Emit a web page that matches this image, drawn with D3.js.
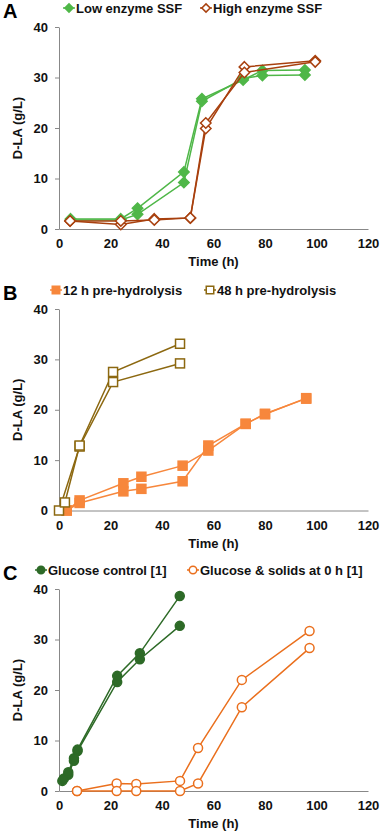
<!DOCTYPE html>
<html>
<head>
<meta charset="utf-8">
<script src="https://cdn.jsdelivr.net/npm/d3@7"></script>
<style>
  body { margin: 0; background: #fff; }
  text { font-family: "Liberation Sans", Arial, sans-serif; font-weight: bold; }
</style>
</head>
<body>
<div id="chart"></div>
<script>
// Axis ticks
const xTicks = [0, 20, 40, 60, 80, 100, 120];
const yTicks = [0, 10, 20, 30, 40];

// Panel A - replicate runs (time h, D-LA g/L)
const lowEnzymeTime = [4.5, 24, 30.5, 48.5, 55.5, 71.5, 79, 95.5];
const lowEnzymeRep1 = [2.0, 2.0, 4.1, 11.3, 25.8, 29.5, 31.4, 31.5];
const lowEnzymeRep2 = [1.8, 1.8, 2.9, 9.2, 25.3, 29.8, 30.4, 30.5];
const highEnzymeTime = [4.3, 24, 37, 51, 57, 72, 99.5];
const highEnzymeRep1 = [1.6, 0.9, 2.0, 2.2, 19.9, 32.1, 33.3];
const highEnzymeRep2 = [1.6, 1.6, 1.8, 2.2, 21.0, 31.0, 33.1];

// Panel B
const pre12Time = [3, 8, 25, 32, 48, 58, 72.5, 80, 96];
const pre12Rep1 = [0, 2.0, 5.4, 6.7, 8.9, 11.9, 17.2, 19.1, 22.3];
const pre12Rep2 = [0, 1.5, 3.8, 4.3, 5.8, 12.9, 17.2, 19.2, 22.2];
const pre48TimeRep1 = [0, 8, 21, 47];
const pre48Rep1 = [0, 12.7, 25.5, 29.2];
const pre48TimeRep2 = [2.3, 8, 21, 47];
const pre48Rep2 = [1.6, 12.9, 27.5, 33.1];

// Panel C
const glucoseTimeRep1 = [1.3, 3.6, 5.8, 7.2, 22.6, 31.4, 46.9];
const glucoseRep1 = [2.0, 3.2, 6.0, 7.9, 21.6, 26.1, 32.7];
const glucoseTimeRep2 = [1.9, 3.6, 5.8, 7.2, 22.6, 31.4, 46.9];
const glucoseRep2 = [2.5, 3.7, 6.5, 8.2, 22.8, 27.3, 38.6];
const solidsTime = [7, 22.4, 30, 47, 54, 71, 97.3];
const solidsRep1 = [0, 1.5, 1.4, 2.0, 8.5, 22.0, 31.7];
const solidsRep2 = [0, 0, 0, 0, 1.5, 16.6, 28.3];

const W = 381, H = 834;
const svg = d3.select('#chart').append('svg')
    .attr('width', W)
    .attr('height', H);

const x = d3.scaleLinear().domain([0, 120]).range([59, 368]);

const zip = (t, v) => t.map((d, i) => [d, v[i]]);

const panels = [
    {
        letter: 'A', top: 27, bottom: 229,
        series: [
            { name: 'Low enzyme SSF', color: '#4fb748', fill: '#4fb748', shape: 'diamond', size: 9.5,
              reps: [zip(lowEnzymeTime, lowEnzymeRep1), zip(lowEnzymeTime, lowEnzymeRep2)] },
            { name: 'High enzyme SSF', color: '#a8400e', fill: '#fff', shape: 'diamond', size: 9.5,
              reps: [zip(highEnzymeTime, highEnzymeRep1), zip(highEnzymeTime, highEnzymeRep2)] }
        ],
        legendX: [63, 200]
    },
    {
        letter: 'B', top: 309, bottom: 510.5,
        series: [
            { name: '12 h pre-hydrolysis', color: '#f7873c', fill: '#f7873c', shape: 'square', size: 9,
              reps: [zip(pre12Time, pre12Rep1), zip(pre12Time, pre12Rep2)] },
            { name: '48 h pre-hydrolysis', color: '#8c6810', fill: '#fff', shape: 'square', size: 9,
              reps: [zip(pre48TimeRep1, pre48Rep1), zip(pre48TimeRep2, pre48Rep2)] }
        ],
        legendX: [50, 204]
    },
    {
        letter: 'C', top: 589, bottom: 791,
        series: [
            { name: 'Glucose control [1]', color: '#2d6a27', fill: '#2d6a27', shape: 'circle', size: 9,
              reps: [zip(glucoseTimeRep1, glucoseRep1), zip(glucoseTimeRep2, glucoseRep2)] },
            { name: 'Glucose & solids at 0 h [1]', color: '#ea6f1d', fill: '#fff', shape: 'circle', size: 9,
              reps: [zip(solidsTime, solidsRep1), zip(solidsTime, solidsRep2)] }
        ],
        legendX: [35, 187]
    }
];

function drawMarker(g, shape, cx, cy, s, color, fill) {
    if (shape === 'circle') {
        g.append('circle').attr('cx', cx).attr('cy', cy).attr('r', s * 0.5)
            .attr('fill', fill).attr('stroke', color).attr('stroke-width', 1.5);
    } else if (shape === 'square') {
        g.append('rect').attr('x', cx - s / 2).attr('y', cy - s / 2)
            .attr('width', s).attr('height', s)
            .attr('fill', fill).attr('stroke', color).attr('stroke-width', 1.5);
    } else {
        const r = s * 0.55;
        g.append('path')
            .attr('d', `M${cx},${cy - r}L${cx + r},${cy}L${cx},${cy + r}L${cx - r},${cy}Z`)
            .attr('fill', fill).attr('stroke', color).attr('stroke-width', 1.5);
    }
}

panels.forEach(p => {
    const y = d3.scaleLinear().domain([0, 40]).range([p.bottom, p.top]);
    const g = svg.append('g');

    // y axis
    const yAxis = g.append('g')
        .attr('transform', `translate(${x(0)},0)`)
        .call(d3.axisLeft(y).tickValues(yTicks).tickSize(4).tickPadding(7).tickSizeOuter(0));
    yAxis.select('.domain').attr('stroke', '#888');
    yAxis.selectAll('.tick line').attr('stroke', '#888');
    yAxis.selectAll('.tick text').attr('fill', '#111').style('font-size', '13px').style('font-weight', 'bold')
        .style('font-family', '"Liberation Sans", Arial, sans-serif');

    // x axis
    const xAxis = g.append('g')
        .attr('transform', `translate(0,${p.bottom})`)
        .call(d3.axisBottom(x).tickValues(xTicks).tickSize(0).tickPadding(10).tickSizeOuter(0));
    xAxis.select('.domain').attr('stroke', '#888');
    xAxis.selectAll('.tick text').attr('fill', '#111').style('font-size', '13px').style('font-weight', 'bold')
        .style('font-family', '"Liberation Sans", Arial, sans-serif');

    // axis titles
    g.append('text')
        .attr('x', (x(0) + x(120)) / 2)
        .attr('y', p.bottom + 37)
        .attr('text-anchor', 'middle')
        .style('font-size', '13px')
        .attr('fill', '#111')
        .text('Time (h)');
    g.append('text')
        .attr('transform', `translate(22,${(p.top + p.bottom) / 2}) rotate(-90)`)
        .attr('text-anchor', 'middle')
        .style('font-size', '13px')
        .attr('fill', '#111')
        .text('D-LA (g/L)');

    // panel letter
    g.append('text')
        .attr('x', 3)
        .attr('y', p.top - 9)
        .style('font-size', '20px')
        .attr('fill', '#000')
        .text(p.letter);

    // series
    const line = d3.line().x(d => x(d[0])).y(d => y(d[1]));
    p.series.forEach(s => {
        s.reps.forEach(rep => {
            g.append('path')
                .datum(rep)
                .attr('d', line)
                .attr('fill', 'none')
                .attr('stroke', s.color)
                .attr('stroke-width', 1.5);
        });
        s.reps.forEach(rep => {
            rep.forEach(d => drawMarker(g, s.shape, x(d[0]), y(d[1]), s.size, s.color, s.fill));
        });
    });

    // legend
    p.series.forEach((s, i) => {
        const lx = p.legendX[i];
        const ly = p.top - 19;
        g.append('line')
            .attr('x1', lx).attr('x2', lx + 12)
            .attr('y1', ly).attr('y2', ly)
            .attr('stroke', s.color).attr('stroke-width', 1.5);
        drawMarker(g, s.shape, lx + 6, ly, 7.5, s.color, s.fill);
        g.append('text')
            .attr('x', lx + 13)
            .attr('y', ly + 5)
            .style('font-size', '13px')
            .attr('fill', '#111')
            .text(s.name);
    });
});
</script>
</body>
</html>
